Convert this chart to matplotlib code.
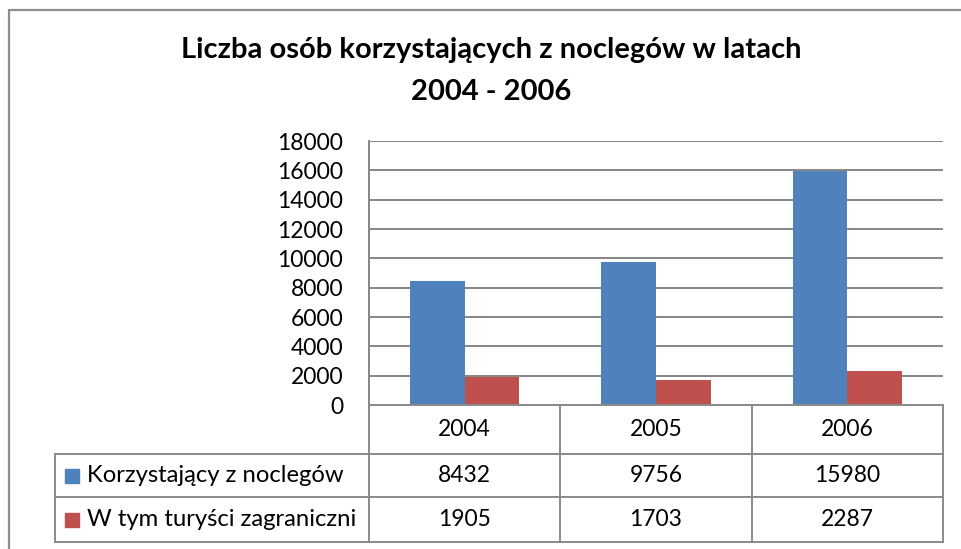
import matplotlib
matplotlib.use("Agg")
import matplotlib.pyplot as plt
import numpy as np

years = ["2004", "2005", "2006"]
series_names = ["Korzystający z noclegów", "W tym turyści zagraniczni"]
korzystajacy = [8432, 9756, 15980]
zagraniczni = [1905, 1703, 2287]
yticks = [0, 2000, 4000, 6000, 8000, 10000, 12000, 14000, 16000, 18000]
title = "Liczba osób korzystających z noclegów w latach\n2004 - 2006"

colors = ["#4F81BD", "#C0504D"]
grid_c = "#868686"
line_c = "#8A8A8A"

plt.rcParams['font.family'] = ['Lato', 'DejaVu Sans']

W, H = 962, 549
fig = plt.figure(figsize=(W / 100, H / 100), dpi=100)
fig.patch.set_facecolor("white")

# pixel geometry
px_l, px_r, px_t, px_b = 369, 943, 141, 405
ax = fig.add_axes([px_l / W, 1 - px_b / H, (px_r - px_l) / W, (px_b - px_t) / H])
x = np.arange(len(years))
gap = 1.5
bw = 1.0 / (2 + gap)
ax.bar(x - bw / 2, korzystajacy, width=bw, color=colors[0], zorder=3)
ax.bar(x + bw / 2, zagraniczni, width=bw, color=colors[1], zorder=3)
ax.set_xlim(-0.5, len(years) - 0.5)
ax.set_ylim(0, 18000)
ax.set_yticks(yticks)
ax.set_yticklabels([str(v) for v in yticks], fontsize=16.5)
ax.tick_params(axis='y', length=0, pad=18.5)
ax.set_xticks([])
for s in ["top", "right", "bottom"]:
    ax.spines[s].set_visible(False)
ax.spines["left"].set_color(grid_c)
ax.spines["left"].set_linewidth(1.4)
ax.yaxis.grid(True, color=grid_c, linewidth=1.4, zorder=0)
ax.set_axisbelow(True)

# overlay in pixel coordinates
ov = fig.add_axes([0, 0, 1, 1], zorder=5)
ov.set_xlim(0, W)
ov.set_ylim(H, 0)
ov.axis("off")
ov.patch.set_alpha(0)

# outer chart frame
ov.plot([9.5, 9.5, W + 5], [H + 5, 9.5, 9.5], color="#8C8C8C", lw=1.6, solid_capstyle="butt")

# title
ov.text(491, 50, title.split("\n")[0], ha="center", va="center", fontsize=21, fontweight="bold")
ov.text(491, 92, title.split("\n")[1], ha="center", va="center", fontsize=21, fontweight="bold")

# data table
col_edges = [px_l + i * (px_r - px_l) / len(years) for i in range(len(years) + 1)]
row_edges = [405, 454, 497, 542]
tab_left = 55
lw = 1.4
for xe in col_edges:
    ov.plot([xe, xe], [row_edges[0], row_edges[-1]], color=line_c, lw=lw)
ov.plot([tab_left, tab_left], [row_edges[1], row_edges[-1]], color=line_c, lw=lw)
ov.plot([px_l, px_r], [row_edges[0], row_edges[0]], color=line_c, lw=lw)
for ye in row_edges[1:]:
    ov.plot([tab_left, px_r], [ye, ye], color=line_c, lw=lw)

fs = 16.5
for i, yr in enumerate(years):
    cx = (col_edges[i] + col_edges[i + 1]) / 2
    ov.text(cx, (row_edges[0] + row_edges[1]) / 2, yr, ha="center", va="center", fontsize=fs)
    ov.text(cx, (row_edges[1] + row_edges[2]) / 2, str(korzystajacy[i]), ha="center", va="center", fontsize=fs)
    ov.text(cx, (row_edges[2] + row_edges[3]) / 2, str(zagraniczni[i]), ha="center", va="center", fontsize=fs)

for j, name in enumerate(series_names):
    yc = (row_edges[j + 1] + row_edges[j + 2]) / 2
    ov.add_patch(plt.Rectangle((65, yc - 7), 14, 14, color=colors[j]))
    ov.text(87, yc, name, ha="left", va="center", fontsize=17.2)

fig.savefig("out.png", dpi=100, facecolor="white")
